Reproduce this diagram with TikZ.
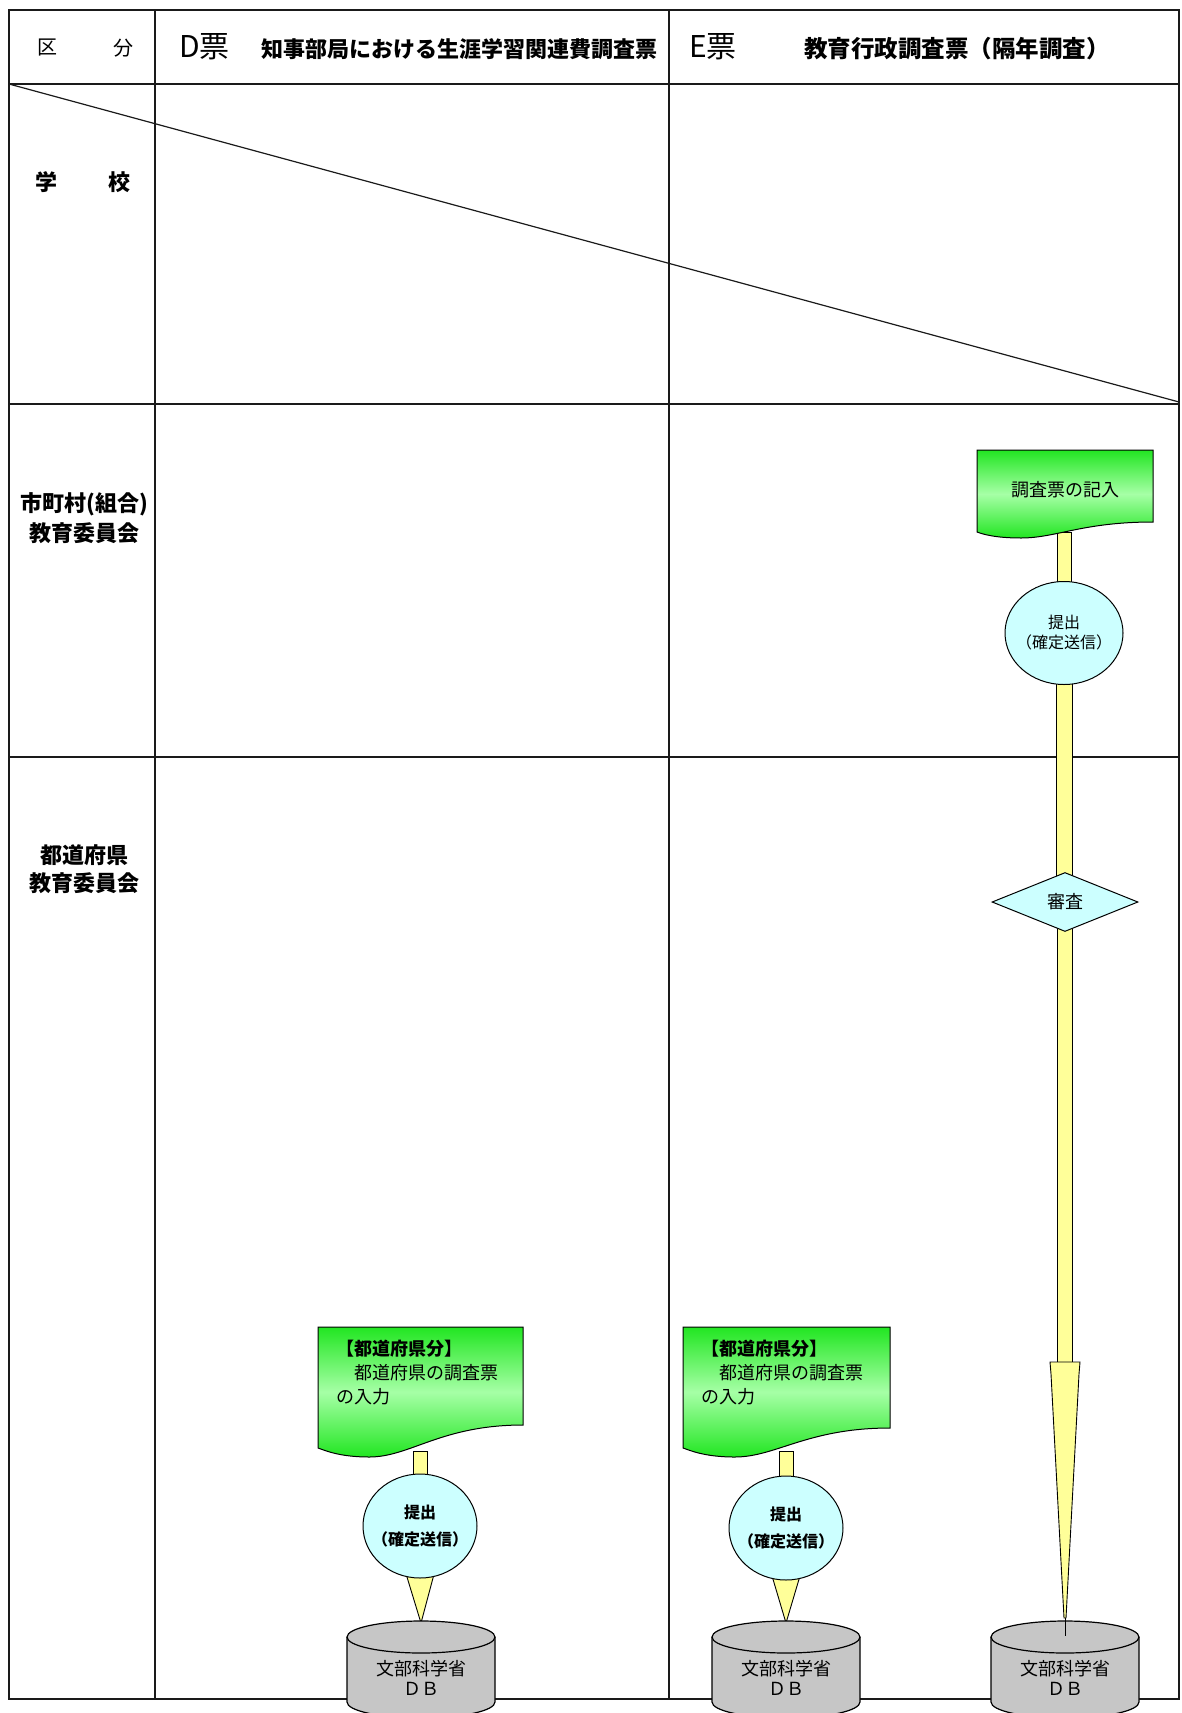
\documentclass[tikz,border=0pt]{standalone}
\usepackage{fontspec}
\setmainfont{Noto Sans CJK JP}
\usetikzlibrary{shapes.geometric,calc}
\pgfdeclarelayer{tbl}
\pgfdeclarelayer{bg}
\pgfsetlayers{tbl,bg,main}
\definecolor{tline}{HTML}{1A1A1A}
\definecolor{gA}{HTML}{22E622}
\definecolor{gB}{HTML}{A6FFA6}
\definecolor{cy}{HTML}{CCFFFF}
\definecolor{yb}{HTML}{FFFF99}
\definecolor{dbg}{HTML}{C6C6C6}
\newcommand\fsz[2]{\fontsize{#1}{#2}\selectfont}
% document shape: #1 name, #2 L, #3 T, #4 R, #5 right bottom, #6 left bottom, #7 lowest
\newcommand\docshape[7]{%
  \path[docst] (#2,#3) -- (#4,#3) -- (#4,#5)
    .. controls ({#2+0.6*(#4-#2)},#5) and ({#2+0.45*(#4-#2)},#7) .. ({#2+0.25*(#4-#2)},#7)
    .. controls ({#2+0.1*(#4-#2)},#7) and ({#2+0.03*(#4-#2)},{#6+2}) .. (#2,#6) -- cycle;
  \coordinate (#1b) at ({0.5*(#2+#4)},{#7-6});
}
% database cylinder: #1 name, #2 centre x
\newcommand\dbshape[2]{%
  \fill[dbg] (#2-74,1637) rectangle (#2+74,1702);
  \fill[dbg] (#2,1702) ellipse[x radius=74pt,y radius=16pt];
  \draw[dbst] (#2-74,1637) -- (#2-74,1702) arc[start angle=180,end angle=360,x radius=74pt,y radius=16pt] -- (#2+74,1637);
  \filldraw[dbst] (#2,1637) ellipse[x radius=74pt,y radius=16pt];
  \coordinate (#1top) at (#2,1623);
  \node[dbtext] (#1) at (#2,1678) {文部科学省\\ＤＢ};
}
\begin{document}
\begin{tikzpicture}[x=1pt,y=-1pt,
  tbl/.style={draw=tline, line width=1.8pt},
  hdr/.style={font=\fsz{20pt}{24pt}, inner sep=0},
  lbl/.style={font=\bfseries\fsz{22pt}{30pt}, inner sep=0, align=center},
  docst/.style={draw=black, line width=1pt, top color=gA, bottom color=gA, middle color=gB},
  doctext/.style={font=\fsz{18pt}{24pt}, inner sep=0, align=left},
  circst/.style={ellipse, draw=black, line width=1pt, fill=cy, minimum width=114pt, minimum height=104pt, inner sep=0},
  ctext/.style={inner sep=0, align=center},
  ybar/.style={fill=yb, draw=black, line width=0.9pt},
  dbst/.style={fill=dbg, draw=black, line width=1.2pt},
  dbtext/.style={font=\fsz{18pt}{20pt}, align=center, inner sep=0}]
\useasboundingbox (0,0) rectangle (1181,1713);

% ---------- table ----------
\begin{pgfonlayer}{tbl}
\fill[white] (0,0) rectangle (1181,1713);
\draw[tbl] (9,10) rectangle (1179,1699);
\draw[tbl] (9,84) -- (1179,84);
\draw[tbl] (9,404) -- (1179,404);
\draw[tbl] (9,757) -- (1179,757);
\draw[tbl] (155,10) -- (155,1699);
\draw[tbl] (669,10) -- (669,1699);
\draw[draw=tline, line width=1.2pt] (9,84) -- (1179,402);
\end{pgfonlayer}

% ---------- header ----------
\node[hdr] (ku) at (47,48) {区};
\node[hdr] (bun) at (123,48) {分};
\node[anchor=west, inner sep=0, font=\fsz{30pt}{32pt}] (dh) at (179,47) {D票};
\node[anchor=west, inner sep=0, font=\bfseries\fsz{22pt}{24pt}] (dt) at (261,49) {知事部局における生涯学習関連費調査票};
\node[anchor=west, inner sep=0, font=\fsz{30pt}{32pt}] (eh) at (689,47) {E票};
\node[anchor=west, inner sep=0, font=\bfseries\fsz{23.5pt}{26pt}] (et) at (804,49) {教育行政調査票（隔年調査）};

% ---------- row labels ----------
\node[lbl] (gaku) at (46,182) {学};
\node[lbl] (kou) at (119,182) {校};
\node[lbl] (shi) at (84,518) {市町村(組合)\\教育委員会};
\node[lbl, font=\bfseries\fsz{22pt}{28pt}] (todo) at (84,869) {都道府県\\教育委員会};

% ---------- E column: municipal flow ----------
\docshape{docE}{977}{450}{1153}{522}{532}{538}
\node[doctext] (docEt) at (1065,490) {調査票の記入};
\node[circst, minimum width=118pt, minimum height=103pt] (cE) at (1064,633) {};
\node[ctext, font=\fsz{16pt}{20pt}] (cEt) at (cE.center) {提出\\（確定送信）};
\node[diamond, draw=black, line width=1pt, fill=cy, aspect=2.5, minimum width=146pt, minimum height=59pt, inner sep=0, font=\fsz{18pt}{20pt}] (shin) at (1065,902) {審査};
\coordinate (tapE) at (1065,1362);
\coordinate (tipE) at (1065,1618);

% ---------- D column prefecture flow ----------
\docshape{docD}{318}{1327}{523}{1425}{1448}{1457}
\node[doctext, anchor=west] (docDt) at (336,1373) {{\bfseries 【都道府県分】}\\　都道府県の調査票\\の入力};
\node[circst] (cD) at (420,1526) {};
\node[ctext, font=\bfseries\fsz{16pt}{27pt}] (cDt) at (cD.center) {提出\\（確定送信）};

% ---------- E column prefecture flow ----------
\docshape{docF}{683}{1327}{890}{1428}{1448}{1457}
\node[doctext, anchor=west] (docFt) at (701,1373) {{\bfseries 【都道府県分】}\\　都道府県の調査票\\の入力};
\node[circst] (cF) at (786,1528) {};
\node[ctext, font=\bfseries\fsz{16pt}{27pt}] (cFt) at (cF.center) {提出\\（確定送信）};

% ---------- databases ----------
\dbshape{dbD}{421}
\dbshape{dbF}{786}
\dbshape{dbE}{1065}

% ---------- connectors ----------
\begin{pgfonlayer}{bg}
\filldraw[ybar] ($(docEb)+(-7.5,0)$) rectangle ($(cE.north)+(7.5,4)$);
\filldraw[ybar] ($(cE.south)+(-7.5,-4)$) rectangle ($(shin.north)+(7.5,4)$);
\filldraw[ybar] ($(shin.south)+(-7.5,-4)$) rectangle ($(tapE)+(7.5,1)$);
\filldraw[ybar] ($(docDb)+(-7.5,0)$) rectangle ($(cD.north)+(7.5,4)$);
\filldraw[ybar] ($(cD.south)+(-15,-8)$) -- ($(cD.south)+(15,-8)$) -- (dbDtop) -- cycle;
\filldraw[ybar] ($(docFb)+(-7.5,0)$) rectangle ($(cF.north)+(7.5,4)$);
\filldraw[ybar] ($(cF.south)+(-15,-8)$) -- ($(cF.south)+(15,-8)$) -- (dbFtop) -- cycle;
\end{pgfonlayer}
\filldraw[ybar] ($(tapE)+(-15,0)$) -- ($(tapE)+(15,0)$) -- ($(tapE)+(14,12)$) -- ($(tipE)+(1,0)$) -- ($(tipE)+(-1,0)$) -- ($(tapE)+(-14,12)$) -- cycle;
\draw[line width=1pt] (tipE) -- ($(dbEtop)+(0,13)$);
\end{tikzpicture}
\end{document}
